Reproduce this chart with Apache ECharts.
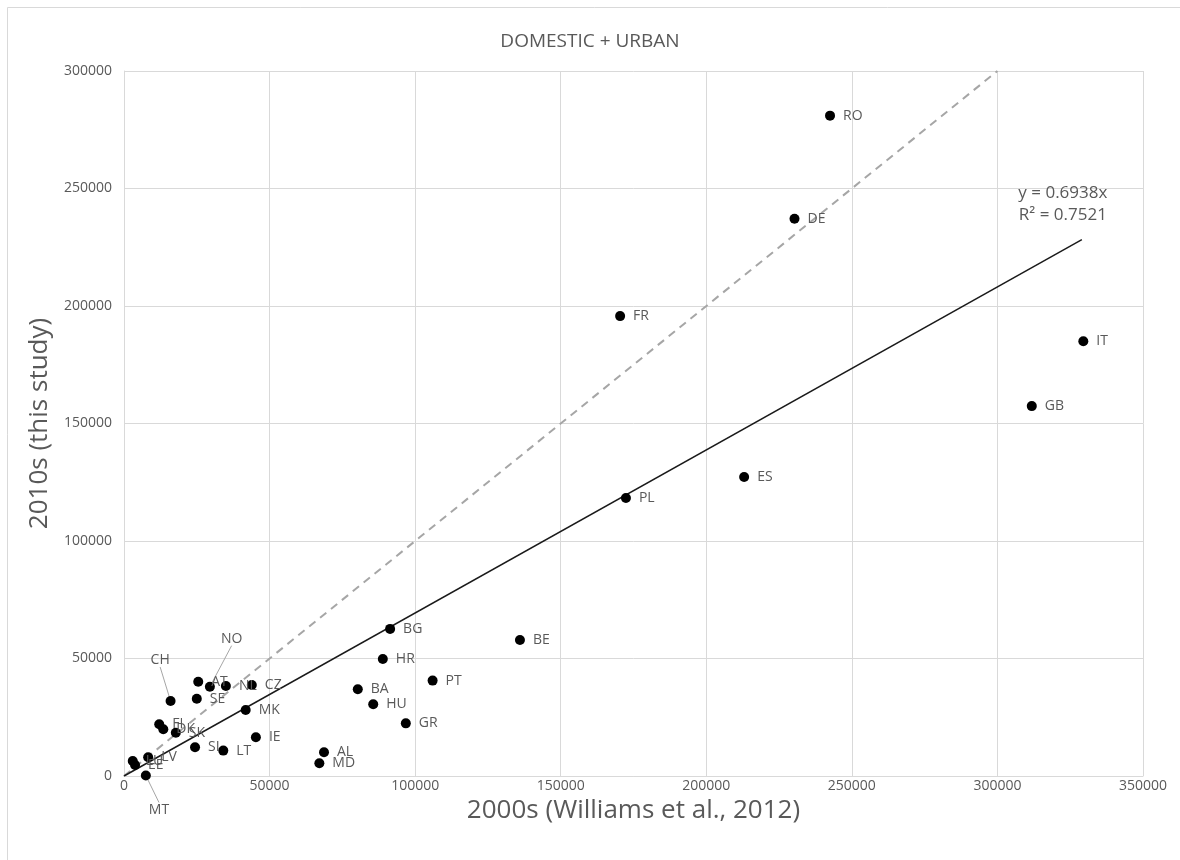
<!DOCTYPE html>
<html>
<head>
<meta charset="utf-8">
<script src="https://cdn.jsdelivr.net/npm/echarts@6/dist/echarts.min.js"></script>
<style>
html,body{margin:0;padding:0;background:#fff;}
#chart{width:1180px;height:860px;}
</style>
</head>
<body>
<div id="chart"></div>
<script>
// ---- data ----
const countries = ['RO','DE','FR','IT','GB','ES','PL','BE','BG','HR','PT','BA','HU','GR','AL','MD','AT','NO','NL','CZ','SE','CH','MK','FI','DK','SK','SI','LT','IE','MT','LV','LU','EE'];
const williams2000s = [242500,230300,170400,329500,311800,213000,172400,136000,91400,88900,106000,80300,85600,96800,68700,67100,25500,29500,35000,43900,25000,16000,41800,12100,13500,17800,24400,34100,45300,7500,8300,3000,3800];
const thisStudy2010s = [281000,237100,195700,185000,157400,127200,118300,57900,62600,49800,40600,36900,30500,22400,10100,5400,40100,38000,38300,38700,32900,31900,28100,22000,19900,18400,12200,10800,16500,200,8000,6400,4700];
const xTicks = [0,50000,100000,150000,200000,250000,300000,350000];
const yTicks = [0,50000,100000,150000,200000,250000,300000];
const trendSlope = 0.6938;
const trendR2 = 0.7521;
const trendXEnd = 329000;
const identityEnd = 300000;

// ---- styles ----
const txt = '#595959';
const grid = '#d9d9d9';
const font = '"Open Sans", "Liberation Sans", sans-serif';
const leaderOffsets = { CH: [-33, -41], NO: [-2, -48], MT: [-10, 34] };

const scatterData = countries.map((c, i) => {
  const item = { name: c, value: [williams2000s[i], thisStudy2010s[i]] };
  if (leaderOffsets[c]) item.labelLine = { show: true, lineStyle: { color: '#a6a6a6', width: 1 } };
  return item;
});

const chart = echarts.init(document.getElementById('chart'), null, { renderer: 'canvas' });
chart.setOption({
  backgroundColor: '#fff',
  animation: false,
  textStyle: { fontFamily: font },
  title: {
    text: 'DOMESTIC + URBAN', left: 'center', top: 27,
    textStyle: { color: txt, fontSize: 19, fontWeight: 'normal', fontFamily: font }
  },
  graphic: [{
    type: 'rect', shape: { x: 7.5, y: 7.5, width: 1200, height: 900 },
    style: { fill: 'none', stroke: grid, lineWidth: 1 }, silent: true, z: -10
  }],
  grid: { left: 124, right: 37, top: 71, bottom: 84, containLabel: false },
  xAxis: {
    type: 'value', min: xTicks[0], max: xTicks[xTicks.length - 1], interval: xTicks[1] - xTicks[0],
    name: '2000s (Williams et al., 2012)', nameLocation: 'middle', nameGap: 12,
    nameTextStyle: { color: txt, fontSize: 26, fontFamily: font },
    axisLine: { show: true, lineStyle: { color: grid, width: 1 } },
    axisTick: { show: false },
    splitLine: { show: true, lineStyle: { color: grid, width: 1 } },
    axisLabel: { color: txt, fontSize: 14, margin: 3, fontFamily: font, formatter: v => String(v) }
  },
  yAxis: {
    type: 'value', min: yTicks[0], max: yTicks[yTicks.length - 1], interval: yTicks[1] - yTicks[0],
    name: '2010s (this study)', nameLocation: 'middle', nameGap: 62, nameRotate: 90,
    nameTextStyle: { color: txt, fontSize: 26, fontFamily: font },
    axisLine: { show: true, lineStyle: { color: grid, width: 1 } },
    axisTick: { show: false },
    splitLine: { show: true, lineStyle: { color: grid, width: 1 } },
    axisLabel: { color: txt, fontSize: 14, margin: 12, fontFamily: font, formatter: v => String(v) }
  },
  series: [
    {
      type: 'line', silent: true, symbol: 'none', z: 2,
      data: [[0, 0], [identityEnd, identityEnd]],
      lineStyle: { color: '#a6a6a6', width: 2, type: [8, 6] }
    },
    {
      type: 'line', silent: true, symbol: 'none', z: 3,
      data: [[0, 0], [trendXEnd, trendSlope * trendXEnd]],
      lineStyle: { color: '#1a1a1a', width: 1.5 },
      markPoint: {
        symbol: 'circle', symbolSize: 0, silent: true,
        data: [{
          coord: [trendXEnd, trendSlope * trendXEnd],
          label: {
            show: true, position: 'top', distance: 13, offset: [-19, 0],
            formatter: 'y = ' + trendSlope + 'x\nR² = ' + trendR2,
            color: txt, fontSize: 17, lineHeight: 22, fontFamily: font, align: 'center'
          }
        }]
      }
    },
    {
      type: 'scatter', z: 5, symbol: 'circle', symbolSize: 10,
      itemStyle: { color: '#000', opacity: 1 },
      data: scatterData,
      label: {
        show: true, position: 'right', distance: 8,
        formatter: p => p.name, color: txt, fontSize: 14, fontFamily: font
      },
      labelLine: { show: false },
      labelLayout: p => {
        const o = leaderOffsets[countries[p.dataIndex]];
        return o ? { dx: o[0], dy: o[1] } : {};
      }
    }
  ]
});
</script>
</body>
</html>
